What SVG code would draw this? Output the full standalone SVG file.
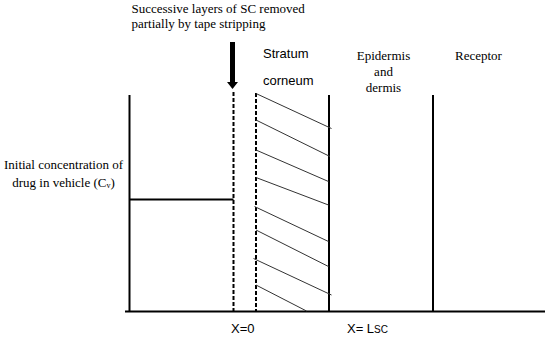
<svg xmlns="http://www.w3.org/2000/svg" width="550" height="338" viewBox="0 0 550 338">
<style>
.serif{font-family:"Liberation Serif","Times New Roman",serif;font-size:13px;fill:#000}
.sans{font-family:"Liberation Sans",Arial,sans-serif;font-size:13px;fill:#000}
.solid{stroke:#000;stroke-width:2;fill:none}
.dash{stroke:#000;stroke-width:2;stroke-dasharray:4 2;fill:none}
.hatch{stroke:#333;stroke-width:1;fill:none}
</style>
<rect width="550" height="338" fill="#fff"/>
<g id="connectors">
<line class="solid" x1="125" y1="311.5" x2="545" y2="311.5"/>
<line class="solid" x1="129.5" y1="95" x2="129.5" y2="311"/>
<line class="solid" x1="129.5" y1="199.5" x2="233.5" y2="199.5"/>
<line class="dash" x1="233.5" y1="92" x2="233.5" y2="311"/>
<line class="dash" x1="256" y1="93" x2="256" y2="311"/>
<line class="solid" x1="329" y1="95" x2="329" y2="311"/>
<line class="solid" x1="433" y1="95" x2="433" y2="311"/>
<rect x="230" y="42" width="5" height="41" fill="#000"/>
<polygon points="227,82 238,82 232.5,89" fill="#000"/>
</g>
<g id="hatching">
<line class="hatch" x1="256" y1="93.5" x2="331.5" y2="128.5"/>
<line class="hatch" x1="256" y1="120" x2="330" y2="156.5"/>
<line class="hatch" x1="256" y1="150" x2="328.5" y2="181.5"/>
<line class="hatch" x1="256" y1="177.5" x2="328.5" y2="205"/>
<line class="hatch" x1="254.5" y1="206.5" x2="328.5" y2="241.5"/>
<line class="hatch" x1="256" y1="230" x2="328.5" y2="266.5"/>
<line class="hatch" x1="253.5" y1="258.5" x2="331.5" y2="295"/>
<line class="hatch" x1="256" y1="285" x2="306.5" y2="311"/>
</g>
<g id="tape-label">
<text class="serif" x="131.5" y="12.5">Successive layers of SC removed</text>
<text class="serif" x="131.5" y="28">partially by tape stripping</text>
</g>
<g id="stratum-label">
<text class="sans" x="263" y="58">Stratum</text>
<text class="sans" x="263" y="85">corneum</text>
</g>
<g id="epidermis-label">
<text class="serif" x="383.5" y="60" text-anchor="middle">Epidermis</text>
<text class="serif" x="383.5" y="76" text-anchor="middle">and</text>
<text class="serif" x="383.5" y="92" text-anchor="middle">dermis</text>
</g>
<g id="receptor-label">
<text class="serif" x="455" y="60">Receptor</text>
</g>
<g id="vehicle-label">
<text class="serif" x="63.5" y="168.5" text-anchor="middle">Initial concentration of</text>
<text class="serif" x="63.5" y="186.5" text-anchor="middle">drug in vehicle (C<tspan font-size="8" dy="1">v</tspan><tspan dy="-1">)</tspan></text>
</g>
<g id="axis-labels">
<text class="sans" x="231" y="333">X=0</text>
<text class="sans" x="347" y="333">X= L<tspan font-size="10">SC</tspan></text>
</g>
</svg>
